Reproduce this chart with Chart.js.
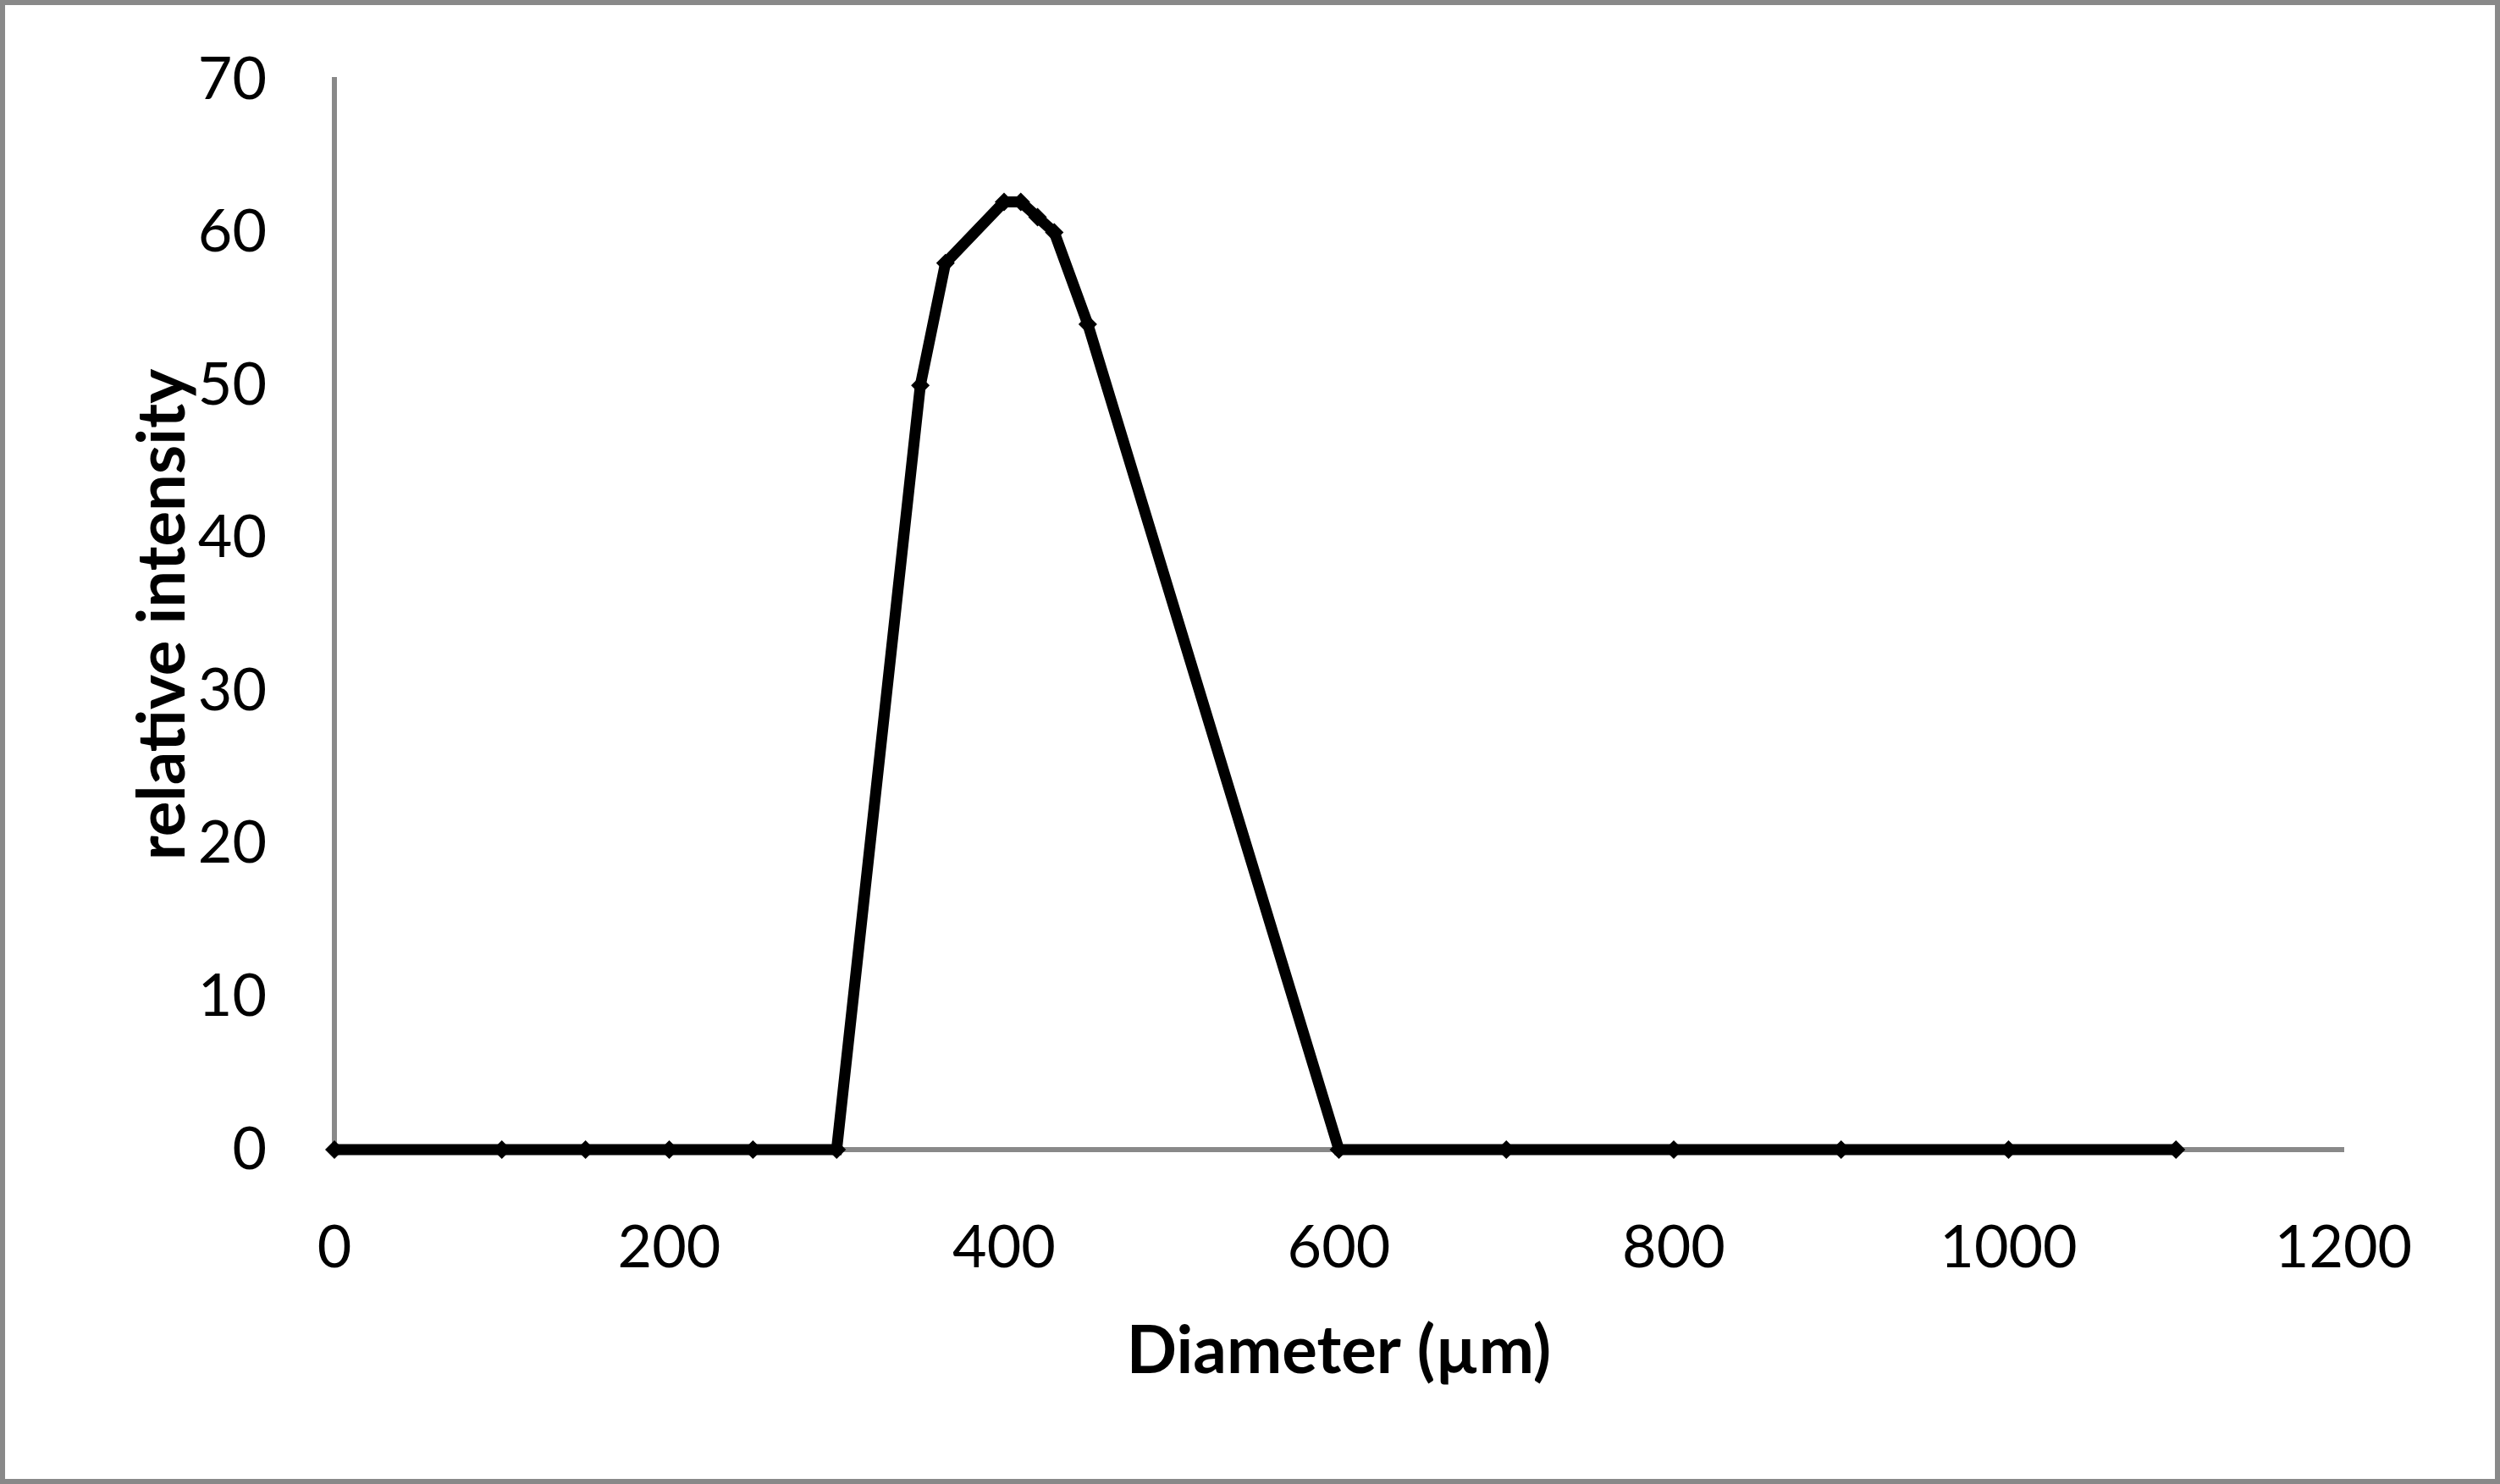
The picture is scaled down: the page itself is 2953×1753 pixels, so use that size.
<!DOCTYPE html>
<html>
<head>
<meta charset="utf-8">
<script src="https://cdn.jsdelivr.net/npm/chart.js@4"></script>
<style>
    body { margin: 0; background: #ffffff; }
    .frame {
        width: 2953px;
        height: 1753px;
        box-sizing: border-box;
        border: 6px solid #898989;
        background: #ffffff;
    }
    canvas { display: block; }
</style>
</head>
<body>
<div class="frame">
    <canvas id="sizeChart" width="2941" height="1741"></canvas>
</div>
<script>
// particle diameters (µm) and relative intensity
const diameters = [0, 100, 150, 200, 250, 300, 350, 365, 400, 410, 420, 430, 450, 600, 700, 800, 900, 1000, 1100];
const intensity = [0, 0, 0, 0, 0, 0, 50, 58, 62, 62, 61, 60, 54, 0, 0, 0, 0, 0, 0];

const xTicks = [0, 200, 400, 600, 800, 1000, 1200];
const yTicks = [0, 10, 20, 30, 40, 50, 60, 70];

const axisGray = "#898989";
const fontFamily = "Lato, 'Open Sans', sans-serif";

document.addEventListener("DOMContentLoaded", function () {
    const points = diameters.map((d, i) => ({ x: d, y: intensity[i] }));

    new Chart(document.getElementById("sizeChart").getContext("2d"), {
        type: "line",
        data: {
            datasets: [{
                label: "relative intensity",
                data: points,
                borderColor: "#000000",
                backgroundColor: "#000000",
                borderWidth: 13,
                tension: 0,
                pointStyle: "rectRot",
                pointRadius: 11,
                pointBorderWidth: 0,
                pointBackgroundColor: "#000000",
                clip: false
            }]
        },
        options: {
            responsive: false,
            animation: false,
            layout: { padding: { top: 88, right: 179, left: 0, bottom: 0 } },
            plugins: {
                legend: { display: false },
                tooltip: { enabled: false }
            },
            scales: {
                x: {
                    type: "linear",
                    min: xTicks[0],
                    max: xTicks[xTicks.length - 1],
                    afterBuildTicks: scale => { scale.ticks = xTicks.map(v => ({ value: v })); },
                    afterFit: scale => { scale.height = 389; },
                    grid: { display: false },
                    border: { display: true, color: axisGray, width: 6 },
                    ticks: {
                        color: "#000000",
                        padding: 66,
                        maxRotation: 0,
                        callback: value => String(value),
                        font: { family: fontFamily, size: 70 }
                    },
                    title: {
                        display: true,
                        text: "Diameter (µm)",
                        color: "#000000",
                        padding: { bottom: 103 },
                        font: { family: fontFamily, size: 78, weight: "bold" }
                    }
                },
                y: {
                    min: yTicks[0],
                    max: yTicks[yTicks.length - 1],
                    afterBuildTicks: scale => { scale.ticks = yTicks.map(v => ({ value: v })); },
                    afterFit: scale => {
                        scale.width = 389;
                        // keep the label gap from pushing the plot top down
                        scale.paddingTop = 0;
                        scale.paddingBottom = 0;
                    },
                    grid: { display: false },
                    border: { display: true, color: axisGray, width: 6 },
                    ticks: {
                        color: "#000000",
                        padding: 72,
                        callback: value => String(value),
                        font: { family: fontFamily, size: 70 }
                    },
                    title: {
                        display: true,
                        text: "relative intensity",
                        color: "#000000",
                        padding: { top: 140 },
                        font: { family: fontFamily, size: 78, weight: "bold" }
                    }
                }
            }
        }
    });
});
</script>
</body>
</html>
